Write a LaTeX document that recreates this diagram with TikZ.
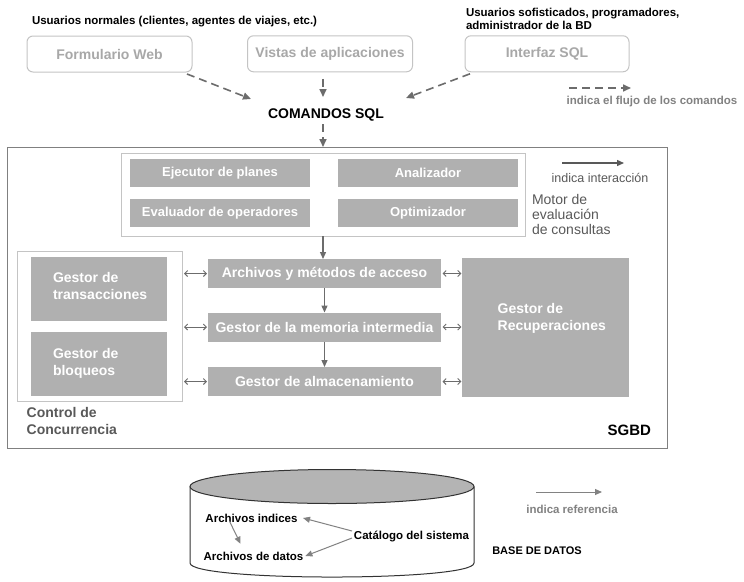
\documentclass[tikz,border=0pt]{standalone}
\usepackage{fontspec}
\setmainfont{Liberation Sans}
\usetikzlibrary{arrows.meta}

\definecolor{boxgray}{RGB}{176,176,176}
\definecolor{linegray}{RGB}{108,108,108}
\definecolor{lightline}{RGB}{196,196,196}
\definecolor{softtext}{RGB}{168,168,168}
\definecolor{darktext}{RGB}{89,89,89}
\definecolor{midtext}{RGB}{130,130,130}
\definecolor{framegray}{RGB}{128,128,128}
\definecolor{cyltop}{RGB}{180,180,180}

\begin{document}
\begin{tikzpicture}[x=1pt,y=-1pt,
        every node/.style={inner sep=0pt,outer sep=0pt},
        smallbold/.style={font=\fontsize{11.5}{13}\selectfont\bfseries},
        userbox/.style={draw=lightline,line width=1pt,rounded corners=6pt,text=softtext,
            font=\fontsize{14}{17}\selectfont\bfseries,minimum width=165pt,minimum height=36pt},
        panel/.style={draw=lightline,fill=white,line width=1pt},
        gbox/.style={fill=boxgray,text=white,font=\fontsize{14}{17}\selectfont\bfseries},
        wlabel/.style={anchor=west,align=left,text=white,font=\fontsize{14}{17}\selectfont\bfseries},
        flow/.style={draw=linegray,line width=1.6pt,dash pattern=on 8pt off 5pt,
            -{Triangle[length=8pt,width=7pt]}},
        inter/.style={draw=linegray,line width=1.3pt,-{Triangle[length=7pt,width=6pt]}},
        both/.style={draw=linegray,line width=0.9pt,
            {Straight Barb[length=3pt,width=6pt]}-{Straight Barb[length=3pt,width=6pt]}},
        refer/.style={draw=midtext,line width=1pt,-{Triangle[length=7pt,width=6pt]}},
        cyl/.style={draw=black!80,line width=1pt}]
        \path[use as bounding box,fill=white] (0,0) rectangle (744,581);

        \node[smallbold,anchor=west] (unorm) at (32,21.5) {Usuarios normales (clientes, agentes de viajes, etc.)};
        \node[smallbold,anchor=west,align=left] (usof) at (466,19) {Usuarios sofisticados, programadores,\\administrador de la BD};
        \node[userbox] (web) at (109.5,54) {Formulario Web};
        \node[userbox] (vistas) at (330,53.8) {Vistas de aplicaciones};
        \node[userbox,minimum width=164pt] (sqlif) at (547,53.8) {Interfaz SQL};
        \node[font=\fontsize{14}{17}\selectfont\bfseries] (cmd) at (326,115) {COMANDOS SQL};

        \draw[flow] ([shift={(-5,2)}]web.south east) -- ([shift={(-75,-16)}]cmd.center);
        \draw[flow] ([shift={(-7,7)}]vistas.south) -- ([shift={(-3,-18)}]cmd.center);
        \draw[flow] ([shift={(5,2)}]sqlif.south west) -- ([shift={(80,-17)}]cmd.center);

        \coordinate (flowA) at (569,88);
        \coordinate (flowB) at (631,88);
        \draw[flow] (flowA) -- (flowB);
        \node[smallbold,text=midtext] (flowtxt) at (652,102) {indica el flujo de los comandos};

        \node[draw=framegray,line width=1pt,minimum width=660pt,minimum height=301pt] (sgbd) at (337,297.5) {};
        \draw[flow] ([shift={(-3,9)}]cmd.center) -- ([xshift=-14pt]sgbd.north);

        \node[panel,minimum width=404pt,minimum height=83pt] (motor) at (323,194.5) {};
        \foreach \n/\x/\y/\t in {ejec/220/173/Ejecutor de planes, anal/428/173/Analizador,
            eval/220/213/Evaluador de operadores, opti/428/213/Optimizador}
            \node[gbox,font=\fontsize{13}{15}\selectfont\bfseries,minimum width=180pt,minimum height=28pt] (\n) at (\x,\y) {\t};

        \coordinate (intA) at (562,163);
        \coordinate (intB) at (624,163);
        \draw[inter,draw=darktext] (intA) -- (intB);
        \node[text=darktext,font=\fontsize{12.5}{14}\selectfont] (inttxt) at (600,178) {indica interacción};
        \node[anchor=west,align=left,text=darktext,font=\fontsize{14}{15}\selectfont] (motorlbl) at (532,214) {Motor de\\evaluación\\de consultas};

        \node[panel,minimum width=165pt,minimum height=150pt] (ctrl) at (100,326.6) {};
        \node[gbox,minimum width=136.5pt,minimum height=63.5pt] (trans) at (98.8,289) {};
        \node[wlabel] (transtxt) at (53,285.7) {Gestor de\\transacciones};
        \node[gbox,minimum width=136.5pt,minimum height=63.5pt] (bloq) at (98.8,363.8) {};
        \node[wlabel] (bloqtxt) at (53,363.7) {Gestor de\\bloqueos};
        \node[gbox,minimum width=166.7pt,minimum height=139pt] (recup) at (545.7,327.8) {};
        \node[wlabel] (recuptxt) at (497.7,318) {Gestor de\\Recuperaciones};

        \foreach \n/\y/\t in {arch/273.5/Archivos y métodos de acceso,
            mem/327/Gestor de la memoria intermedia, alm/381.5/Gestor de almacenamiento}
            \node[gbox,minimum width=233pt,minimum height=29pt] (\n) at (324.5,\y) {\t};

        \draw[inter] (motor.south) -- (motor.south |- arch.north);
        \draw[inter] (arch.south) -- (mem.north);
        \draw[inter] (mem.south) -- (alm.north);
        \foreach \b in {arch,mem,alm}{
            \draw[both] ([xshift=1.5pt]\b.west -| ctrl.east) -- ([xshift=-1pt]\b.west);
            \draw[both] ([xshift=1.5pt]\b.east) -- ([xshift=-1pt]\b.east -| recup.west);
        }

        \node[anchor=west,align=left,text=darktext,font=\fontsize{14}{16.6}\selectfont\bfseries] (ctrllbl) at (26.7,421) {Control de\\Concurrencia};
        \node[anchor=east,font=\fontsize{15}{17}\selectfont\bfseries] (sgbdlbl) at (651,430) {SGBD};

        \draw[cyl] (190,486.5) -- (190,563) .. controls (190,581.7) and (474,581.7) .. (474,563) -- (474,486.5);
        \draw[cyl,fill=cyltop] (332,486.5) ellipse [x radius=142, y radius=17];
        \node[smallbold,inner sep=2pt] (idx) at (251.5,518) {Archivos indices};
        \node[smallbold,inner sep=2pt] (dat) at (253.5,556) {Archivos de datos};
        \node[smallbold,inner sep=2pt] (cat) at (411.5,536) {Catálogo del sistema};
        \draw[refer] ([shift={(-22,-3)}]idx.south) -- ([shift={(-13,-6)}]dat.north);
        \draw[refer] ([yshift=5pt]cat.west) -- ([xshift=3.5pt]idx.east);
        \draw[refer] ([yshift=-2pt]cat.west) -- (dat.east);

        \coordinate (refA) at (536,492);
        \coordinate (refB) at (602,492);
        \draw[refer] (refA) -- (refB);
        \node[smallbold,text=midtext] (reftxt) at (572,509) {indica referencia};
        \node[font=\fontsize{11}{13}\selectfont\bfseries] (bd) at (537,551) {BASE DE DATOS};
    \end{tikzpicture}
\end{document}
